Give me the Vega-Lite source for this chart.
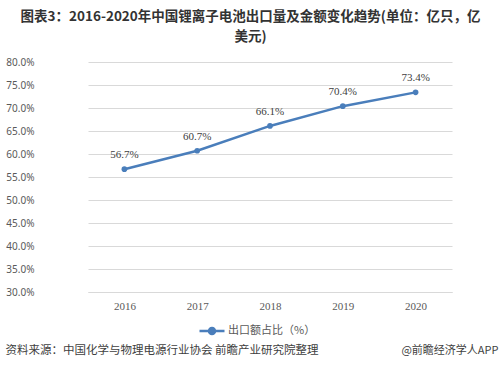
{
  "$schema": "https://vega.github.io/schema/vega-lite/v6.json",
  "width": 447,
  "height": 230,
  "autosize": {"type": "none"},
  "padding": {"left": 43, "top": 62, "right": 10, "bottom": 76},
  "background": "white",
  "config": {"view": {"stroke": null}, "font": "Noto Sans CJK SC"},
  "title": {
    "text": ["图表3：2016-2020年中国锂离子电池出口量及金额变化趋势(单位：亿只，亿", "美元)"],
    "fontSize": 13.5,
    "fontWeight": "bold",
    "color": "#333333",
    "anchor": "middle",
    "dx": -16,
    "lineHeight": 20,
    "offset": 14,
    "font": "Noto Sans CJK SC"
  },
  "data": {
    "values": [
      {"year": "2016", "share": 0.567, "series": "出口额占比（%）"},
      {"year": "2017", "share": 0.607, "series": "出口额占比（%）"},
      {"year": "2018", "share": 0.661, "series": "出口额占比（%）"},
      {"year": "2019", "share": 0.704, "series": "出口额占比（%）"},
      {"year": "2020", "share": 0.734, "series": "出口额占比（%）"}
    ]
  },
  "encoding": {
    "x": {
      "field": "year",
      "type": "ordinal",
      "scale": {"type": "point", "range": [45, 409]},
      "axis": {
        "labelAngle": 0,
        "labelFont": "Liberation Serif",
        "labelFontSize": 11,
        "labelColor": "#595959",
        "labelPadding": 8,
        "domain": true,
        "domainColor": "#d9d9d9",
        "ticks": false,
        "grid": false,
        "title": "资料来源：中国化学与物理电源行业协会 前瞻产业研究院整理",
        "titleFont": "Noto Sans CJK SC",
        "titleFontSize": 11.5,
        "titleFontWeight": "normal",
        "titleColor": "#404040",
        "titleAlign": "left",
        "titleBaseline": "middle",
        "titleX": -38,
        "titleY": 58
      }
    },
    "y": {
      "field": "share",
      "type": "quantitative",
      "scale": {"domain": [0.3, 0.8]},
      "axis": null
    }
  },
  "layer": [
    {
      "mark": {"type": "line", "strokeWidth": 2.5},
      "encoding": {
        "y": {
          "field": "share",
          "type": "quantitative",
          "scale": {"domain": [0.3, 0.8]},
          "axis": {
            "orient": "left",
            "values": [0.3, 0.35, 0.4, 0.45, 0.5, 0.55, 0.6, 0.65, 0.7, 0.75, 0.8],
            "format": ".1%",
            "domain": false,
            "ticks": false,
            "grid": true,
            "gridColor": "#d9d9d9",
            "labelFont": "Noto Sans",
            "labelFontSize": 10,
            "labelColor": "#595959",
            "labelPadding": 9,
            "title": null
          }
        },
        "color": {
          "field": "series",
          "type": "nominal",
          "scale": {"range": ["#4a7ebb"]},
          "legend": {
            "orient": "none",
            "legendX": 155,
            "legendY": 255,
            "title": null,
            "symbolType": "M-1,0H1M-0.24,0A0.24,0.24 0 1,0 0.24,0A0.24,0.24 0 1,0 -0.24,0",
            "symbolSize": 625,
            "symbolStrokeWidth": 2.5,
            "symbolFillColor": "#4a7ebb",
            "labelFont": "Noto Sans CJK SC",
            "labelFontSize": 11,
            "labelColor": "#595959",
            "labelOffset": 2
          }
        }
      }
    },
    {
      "mark": {"type": "point", "filled": true, "size": 32, "color": "#4a7ebb", "opacity": 1}
    },
    {
      "mark": {"type": "text", "dy": -14, "fontSize": 11, "font": "Liberation Serif", "color": "#404040"},
      "encoding": {
        "text": {"field": "share", "type": "quantitative", "format": ".1%"},
        "y": {
          "field": "share",
          "type": "quantitative",
          "scale": {"domain": [0.3, 0.8]},
          "axis": {
            "orient": "right",
            "domain": false,
            "ticks": false,
            "labels": false,
            "grid": false,
            "title": "@前瞻经济学人APP",
            "titleAngle": 0,
            "titleFont": "Noto Sans CJK SC",
            "titleFontSize": 11,
            "titleFontWeight": "normal",
            "titleColor": "#404040",
            "titleAlign": "right",
            "titleBaseline": "middle",
            "titleX": 8,
            "titleY": 288
          }
        }
      }
    }
  ],
  "resolve": {"axis": {"y": "independent"}}
}
